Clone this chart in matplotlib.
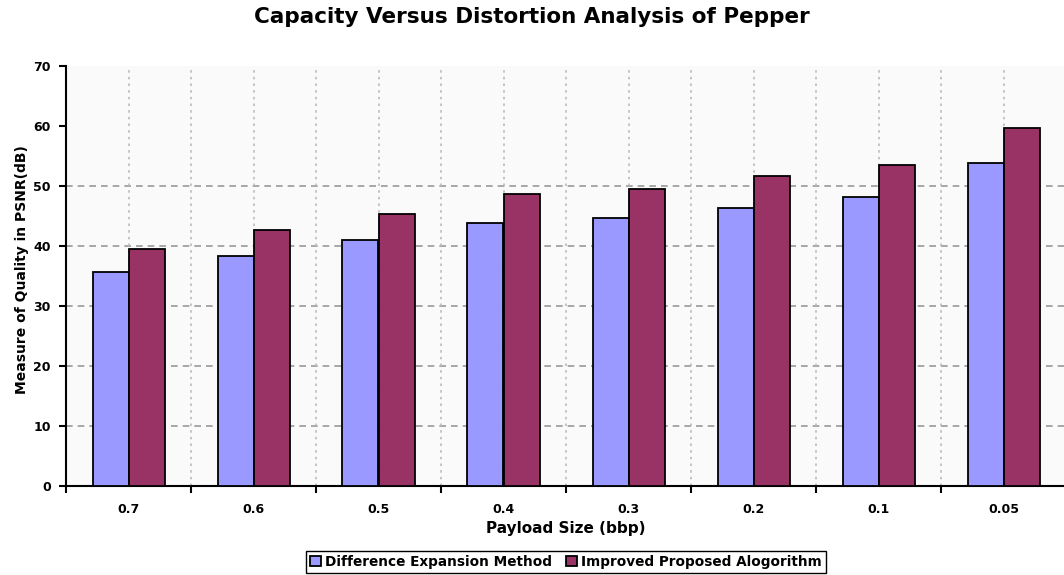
import matplotlib.pyplot as plt
import numpy as np

categories = ['0.7', '0.6', '0.5', '0.4', '0.3', '0.2', '0.1', '0.05']
diff_expansion = [35.6, 38.3, 41.0, 43.8, 44.6, 46.4, 48.2, 53.8]
improved = [39.5, 42.6, 45.4, 48.6, 49.5, 51.6, 53.5, 59.7]
y_ticks = [0, 10, 20, 30, 40, 50, 60, 70]

blue = '#9999FF'
red = '#993366'

fig = plt.figure(figsize=(10.64, 5.75), dpi=100)
ax = fig.add_axes([66 / 1064, 1 - 486 / 575, 1000 / 1064, 420 / 575])
ax.set_facecolor('#FAFAFA')

x = np.arange(len(categories)) + 0.5
w = 0.288

# grid
for v in [10, 20, 30, 40, 50]:
    ax.axhline(v, color='#999999', lw=1.2, ls=(0, (4, 3)), zorder=1)
for v in np.arange(0.5, 8, 0.5):
    ax.axvline(v, color='#BBBBBB', lw=1.2, ls=(0, (1.5, 2.5)), zorder=1)

ax.bar(x - w / 2, diff_expansion, w, color=blue, edgecolor='black', lw=1.3,
       label='Difference Expansion Method', zorder=3)
ax.bar(x + w / 2, improved, w, color=red, edgecolor='black', lw=1.3,
       label='Improved Proposed Alogorithm', zorder=3)

ax.set_xlim(0, 8)
ax.set_ylim(0, 70)
ax.set_yticks(y_ticks)
ax.set_yticklabels([str(t) for t in y_ticks], fontweight='bold', fontsize=9)
ax.set_xticks(np.arange(0, 9))
ax.set_xticklabels([])
ax.set_xticks(x, minor=True)
ax.set_xticklabels(categories, minor=True, fontweight='bold', fontsize=9)
ax.tick_params(axis='x', which='major', length=5, width=1.5, direction='out')
ax.tick_params(axis='x', which='minor', length=0, pad=12)
ax.tick_params(axis='y', length=5, width=1.5, direction='out', pad=6)

for s in ['top', 'right']:
    ax.spines[s].set_visible(False)
for s in ['left', 'bottom']:
    ax.spines[s].set_linewidth(1.5)

fig.text(532 / 1064, 1 - 17 / 575, 'Capacity Versus Distortion Analysis of Pepper',
         ha='center', va='center', fontsize=15.5, fontweight='bold')
fig.text(566 / 1064, 1 - 528 / 575, 'Payload Size (bbp)',
         ha='center', va='center', fontsize=11, fontweight='bold')
fig.text(22 / 1064, 1 - 270 / 575, 'Measure of Quality in PSNR(dB)',
         ha='center', va='center', rotation=90, fontsize=10, fontweight='bold')

fig.legend(loc='center', bbox_to_anchor=(566 / 1064, 1 - 562 / 575), ncol=2,
           prop={'weight': 'bold', 'size': 9.8}, fancybox=False, edgecolor='black',
           framealpha=1, handlelength=0.8, handleheight=0.8, handletextpad=0.3,
           columnspacing=1.0, borderpad=0.3, borderaxespad=0)

fig.savefig('out.png', dpi=100)
